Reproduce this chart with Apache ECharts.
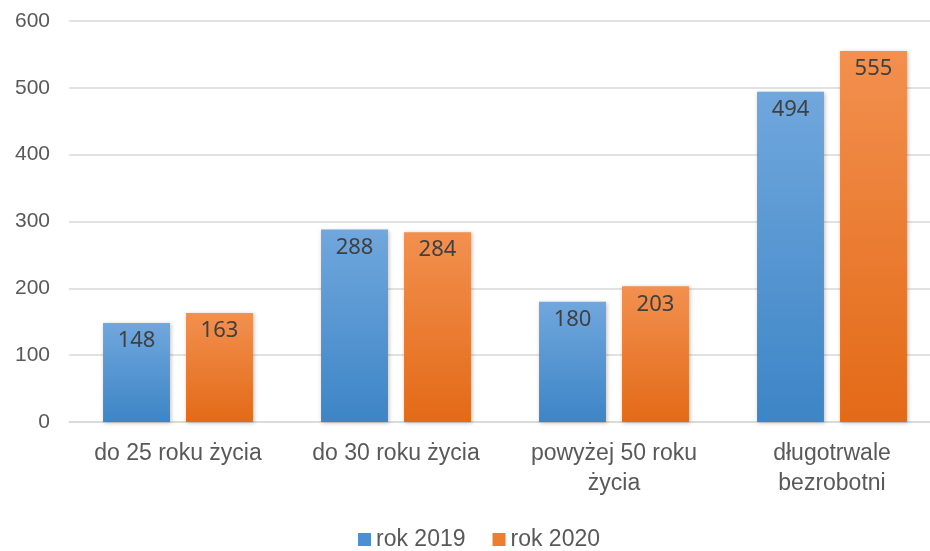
<!DOCTYPE html>
<html>
<head>
<meta charset="utf-8">
<script src="https://cdn.jsdelivr.net/npm/echarts@6/dist/echarts.min.js"></script>
<style>
  html, body { margin: 0; padding: 0; background: #fff; }
  #chart { width: 930px; height: 551px; }
</style>
</head>
<body>
<div id="chart"></div>
<script>
var categories = ['do 25 roku życia', 'do 30 roku życia', 'powyżej 50 roku\nżycia', 'długotrwale\nbezrobotni'];
var values2019 = [148, 288, 180, 494];
var values2020 = [163, 284, 203, 555];
var yTicks = [0, 100, 200, 300, 400, 500, 600];

var chart = echarts.init(document.getElementById('chart'));

function grad(top, bottom) {
	return new echarts.graphic.LinearGradient(0, 0, 0, 1, [
		{ offset: 0, color: top },
		{ offset: 1, color: bottom }
	]);
}

var labelStyle = {
	show: true,
	position: 'insideTop',
	distance: 7,
	fontSize: 22,
	fontFamily: 'Noto Sans',
	color: '#404040'
};

var option = {
	animation: false,
	// plot runs a little past the right edge, like the source image
	grid: { left: 69, width: 872, top: 21, bottom: 129, outerBoundsMode: 'none' },
	legend: {
		top: 523,
		left: 353,
		itemWidth: 13,
		itemHeight: 13,
		itemGap: 27,
		icon: 'rect',
		textStyle: { fontSize: 23, fontFamily: 'Liberation Sans', color: '#595959' },
		data: [
			{ name: 'rok 2019', itemStyle: { color: '#4a90d2' } },
			{ name: 'rok 2020', itemStyle: { color: '#ed7d31' } }
		]
	},
	xAxis: {
		type: 'category',
		data: categories,
		axisLine: { lineStyle: { color: '#d9d9d9', width: 1.5 } },
		axisTick: { show: false },
		axisLabel: {
			margin: 17,
			fontSize: 23,
			lineHeight: 30,
			fontFamily: 'Liberation Sans',
			color: '#595959',
			interval: 0
		}
	},
	yAxis: {
		type: 'value',
		min: yTicks[0],
		max: yTicks[yTicks.length - 1],
		interval: 100,
		axisLine: { show: false },
		axisTick: { show: false },
		splitLine: { lineStyle: { color: '#d9d9d9', width: 1.5 } },
		axisLabel: {
			margin: 19,
			fontSize: 21,
			fontFamily: 'Liberation Sans',
			color: '#595959'
		}
	},
	series: [
		{
			name: 'rok 2019',
			type: 'bar',
			data: values2019,
			barWidth: '30.7%',
			barGap: '24%',
			itemStyle: {
				color: grad('#70a7dd', '#3d85c6'),
				shadowColor: 'rgba(0,0,0,0.25)',
				shadowBlur: 4,
				shadowOffsetX: 1,
				shadowOffsetY: 1
			},
			label: labelStyle
		},
		{
			name: 'rok 2020',
			type: 'bar',
			data: values2020,
			barWidth: '30.7%',
			itemStyle: {
				color: grad('#f2904f', '#e36a17'),
				shadowColor: 'rgba(0,0,0,0.25)',
				shadowBlur: 4,
				shadowOffsetX: 1,
				shadowOffsetY: 1
			},
			label: labelStyle
		}
	]
};

chart.setOption(option);
</script>
</body>
</html>
